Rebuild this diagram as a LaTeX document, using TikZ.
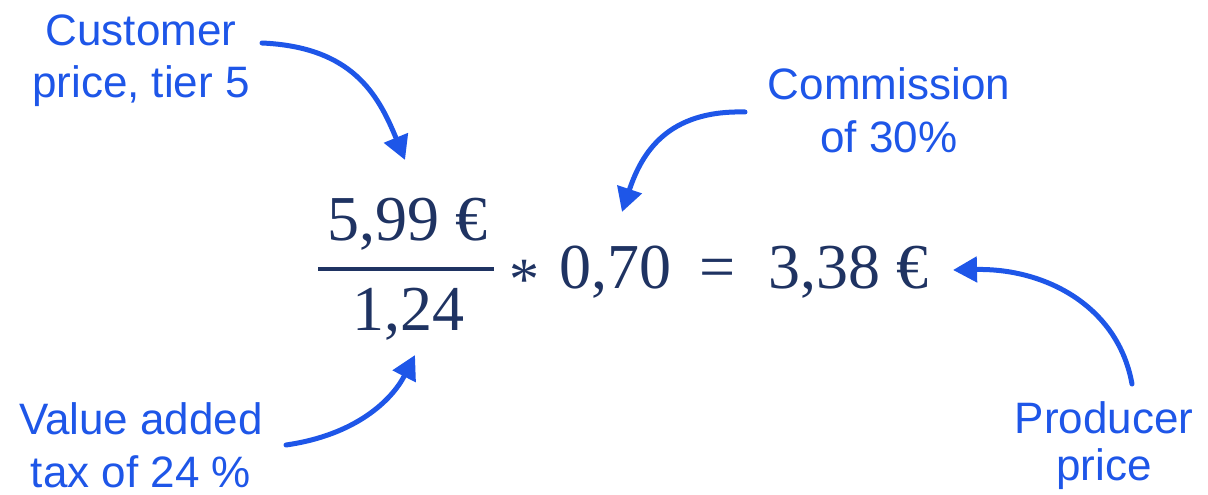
\documentclass[tikz,border=0pt]{standalone}
\usepackage{fontspec}
\usetikzlibrary{arrows.meta}
\newfontfamily\lblfont{Liberation Sans}
\newfontfamily\eqfont{Liberation Serif}
\definecolor{arrblue}{RGB}{30,86,232}
\definecolor{eqnavy}{RGB}{31,51,98}
\tikzset{
  lbl/.style={font=\lblfont\fontsize{44}{53}\selectfont, text=arrblue, align=center, inner sep=0pt, anchor=base},
  eqtext/.style={font=\eqfont\fontsize{64}{70}\selectfont, text=eqnavy, inner sep=0pt, anchor=base},
  callout/.style={draw=arrblue, line width=5pt, line cap=round, -{Triangle[length=24pt,width=25pt]}},
}
\begin{document}
\begin{tikzpicture}[x=1pt,y=-1pt]
\useasboundingbox (0,0) rectangle (1208,495);
% labels (anchor = baseline of last line)
\node[lbl] (cust) at (141,98) {Customer\\price, tier 5};
\node[lbl] (comm) at (889,152) {Commission\\of 30\%};
\node[lbl] (vat) at (141,487) {Value added\\tax of 24 \%};
\node[lbl, font=\lblfont\fontsize{44}{47}\selectfont] (prod) at (1104,480) {Producer\\price};
% formula
\node[eqtext] (num) at (407,240) {5,99 €};
\node[eqtext] (den) at (408,330) {1,24};
\coordinate (barl) at (318,269);
\coordinate (barr) at (494,269);
\draw[eqnavy, line width=3.6pt] (barl) -- (barr);
\node[eqtext, font=\eqfont\fontsize{60}{60}\selectfont] (ast) at (524,299) {*};
\node[eqtext] (fac) at (615,288) {0,70};
\node[eqtext] (eq) at (718,288) {=};
\node[eqtext] (res) at (848,288) {3,38 €};
% arrow endpoints
\coordinate (a1s) at (262,43);
\coordinate (a1e) at (405,160);
\coordinate (a2s) at (745,112);
\coordinate (a2e) at (622,212);
\coordinate (a3s) at (1132,384);
\coordinate (a3e) at (953,270);
\coordinate (a4s) at (286,445);
\coordinate (a4e) at (415,355);
\draw[callout] (a1s) .. controls (352,47) and (378,94) .. (a1e);
\draw[callout] (a2s) .. controls (668,110) and (642,152) .. (a2e);
\draw[callout] (a3s) .. controls (1118,306) and (1045,268) .. (a3e);
\draw[callout] (a4s) .. controls (356,435) and (392,400) .. (a4e);
\end{tikzpicture}
\end{document}
